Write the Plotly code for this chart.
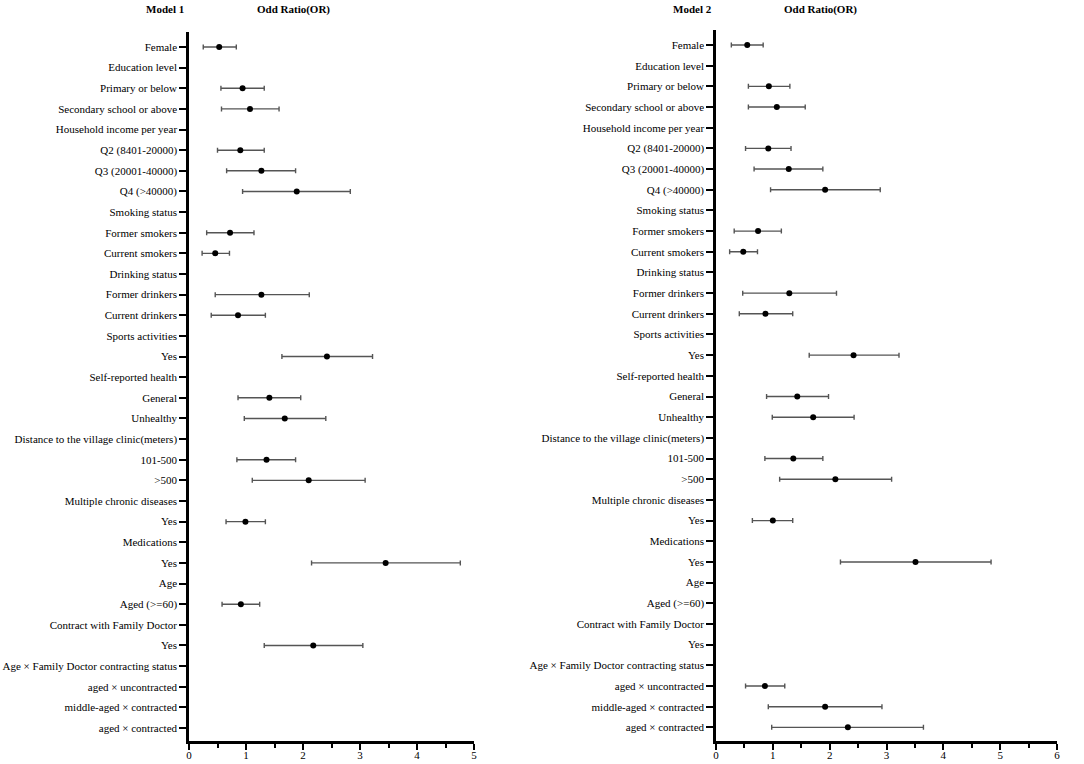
import plotly.graph_objects as go

labels = [
    "Female", "Education level", "Primary or below", "Secondary school or above",
    "Household income per year", "Q2 (8401-20000)", "Q3 (20001-40000)", "Q4 (>40000)",
    "Smoking status", "Former smokers", "Current smokers", "Drinking status",
    "Former drinkers", "Current drinkers", "Sports activities", "Yes",
    "Self-reported health", "General", "Unhealthy",
    "Distance to the village clinic(meters)", "101-500", ">500",
    "Multiple chronic diseases", "Yes", "Medications", "Yes", "Age", "Aged (>=60)",
    "Contract with Family Doctor", "Yes", "Age × Family Doctor contracting status",
    "aged × uncontracted", "middle-aged × contracted", "aged × contracted",
]

N = None
# Model 1
or1 = [0.53, N, 0.94, 1.07, N, 0.90, 1.27, 1.89, N, 0.72, 0.46, N, 1.27, 0.86, N, 2.42,
       N, 1.41, 1.68, N, 1.36, 2.10, N, 0.99, N, 3.45, N, 0.91, N, 2.18, N, N, N, N]
lo1 = [0.25, N, 0.56, 0.57, N, 0.50, 0.66, 0.94, N, 0.31, 0.23, N, 0.46, 0.39, N, 1.63,
       N, 0.86, 0.97, N, 0.84, 1.11, N, 0.65, N, 2.15, N, 0.58, N, 1.32, N, N, N, N]
hi1 = [0.83, N, 1.32, 1.58, N, 1.32, 1.87, 2.83, N, 1.14, 0.71, N, 2.11, 1.34, N, 3.22,
       N, 1.96, 2.40, N, 1.87, 3.09, N, 1.34, N, 4.76, N, 1.24, N, 3.05, N, N, N, N]
# Model 2
or2 = [0.55, N, 0.93, 1.07, N, 0.92, 1.28, 1.92, N, 0.74, 0.48, N, 1.29, 0.87, N, 2.42,
       N, 1.43, 1.71, N, 1.36, 2.10, N, 1.00, N, 3.51, N, N, N, N, N, 0.86, 1.92, 2.32]
lo2 = [0.27, N, 0.57, 0.57, N, 0.52, 0.67, 0.96, N, 0.32, 0.24, N, 0.47, 0.41, N, 1.64,
       N, 0.89, 0.99, N, 0.86, 1.12, N, 0.64, N, 2.19, N, N, N, N, N, 0.52, 0.92, 0.98]
hi2 = [0.83, N, 1.30, 1.57, N, 1.32, 1.88, 2.89, N, 1.15, 0.73, N, 2.12, 1.35, N, 3.22,
       N, 1.98, 2.43, N, 1.88, 3.09, N, 1.35, N, 4.84, N, N, N, N, N, 1.21, 2.92, 3.65]

rows = list(range(len(labels)))
FONT = "Liberation Serif"


def trace(ors, los, his, xa, ya):
    ys, xs, plus, minus = [], [], [], []
    for r, o, l, h in zip(rows, ors, los, his):
        if o is None:
            continue
        ys.append(r)
        xs.append(o)
        plus.append(h - o)
        minus.append(o - l)
    return go.Scatter(
        x=xs, y=ys, mode="markers", xaxis=xa, yaxis=ya, showlegend=False,
        marker=dict(color="black", size=6),
        error_x=dict(type="data", array=plus, arrayminus=minus, symmetric=False,
                     color="#555555", thickness=1.4, width=2.5),
    )


fig = go.Figure()
fig.add_trace(trace(or1, lo1, hi1, "x", "y"))
fig.add_trace(trace(or2, lo2, hi2, "x2", "y2"))

W, H = 1084, 764
ax_common = dict(
    showline=True, linecolor="black", linewidth=2.5, showgrid=False, zeroline=False,
    ticks="outside", tickcolor="black", tickwidth=2, automargin=False,
    tickfont=dict(family=FONT, size=11, color="black"),
)
x_extra = dict(ticklen=6, ticklabelstandoff=-4)

fig.update_layout(
    width=W, height=H, margin=dict(l=0, r=0, t=0, b=0, pad=0),
    plot_bgcolor="white", paper_bgcolor="white",
    font=dict(family=FONT, size=11, color="black"),
    xaxis=dict(domain=[189 / W, 474 / W], range=[0, 5], tickvals=[0, 1, 2, 3, 4, 5],
               anchor="y",
               minor=dict(tickvals=[0.5, 1.5, 2.5, 3.5, 4.5], ticks="outside", ticklen=4,
                          tickwidth=2, tickcolor="black"),
               **x_extra, **ax_common),
    yaxis=dict(domain=[1 - 741 / H, 1 - 32 / H], range=[33.63, -0.727], ticklen=7,
               tickvals=rows, ticktext=labels, anchor="x", **ax_common),
    xaxis2=dict(domain=[716 / W, 1057 / W], range=[0, 6], tickvals=[0, 1, 2, 3, 4, 5, 6],
                anchor="y2",
                minor=dict(tickvals=[0.5, 1.5, 2.5, 3.5, 4.5, 5.5], ticks="outside",
                           ticklen=4, tickwidth=2, tickcolor="black"),
                **x_extra, **ax_common),
    yaxis2=dict(domain=[1 - 741 / H, 1 - 29.5 / H], range=[33.66, -0.75], ticklen=7,
                tickvals=rows, ticktext=labels, anchor="x2", **ax_common),
)

titles = [("Model 1", 165), ("Odd Ratio(OR)", 293), ("Model 2", 692), ("Odd Ratio(OR)", 820)]
for t, xc in titles:
    fig.add_annotation(text="<b>%s</b>" % t, x=xc / W, y=1 - 9 / H, xref="paper",
                       yref="paper", showarrow=False, xanchor="center", yanchor="middle",
                       font=dict(family=FONT, size=11, color="black"))

fig.write_html("out.html", config={"displayModeBar": False},
               post_script="document.body.style.margin='0';document.body.style.overflow='hidden';")
